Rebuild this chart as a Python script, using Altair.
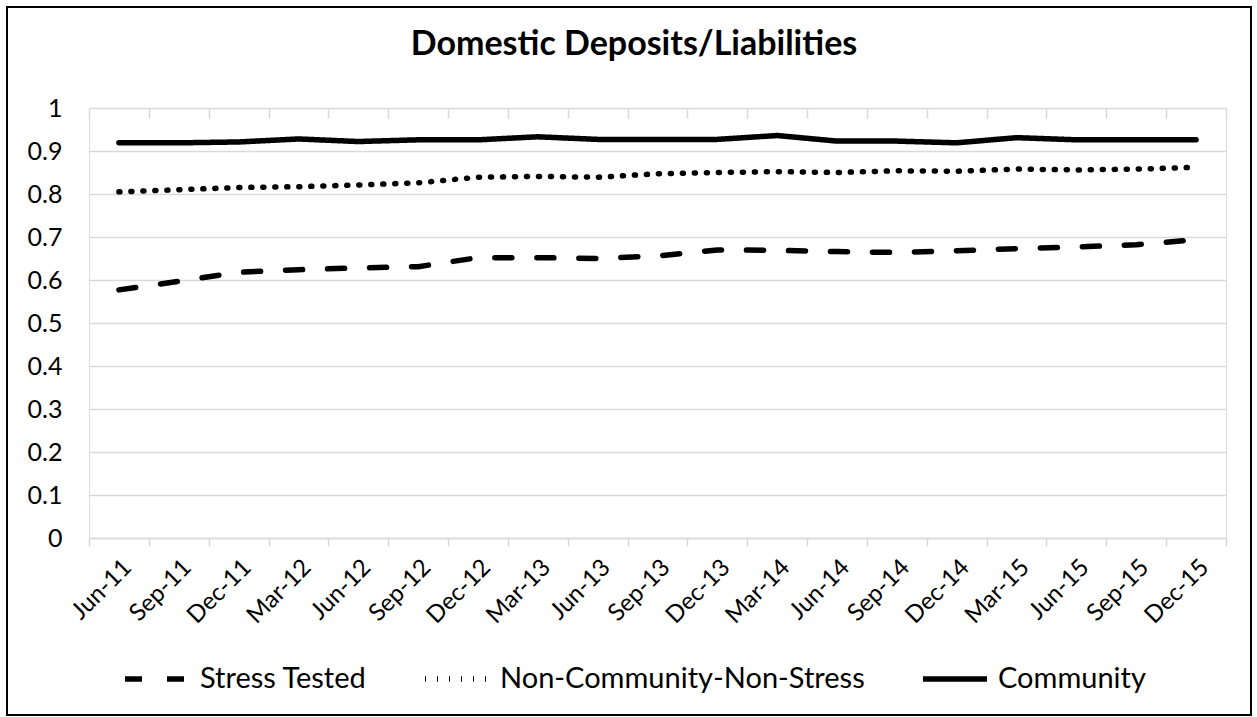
import altair as alt
import pandas as pd

title_text = "Domestic Deposits/Liabilities"
periods = ["Jun-11", "Sep-11", "Dec-11", "Mar-12", "Jun-12", "Sep-12", "Dec-12",
           "Mar-13", "Jun-13", "Sep-13", "Dec-13", "Mar-14", "Jun-14", "Sep-14",
           "Dec-14", "Mar-15", "Jun-15", "Sep-15", "Dec-15"]
series_names = ["Stress Tested", "Non-Community-Non-Stress", "Community"]
stress = [0.577, 0.597, 0.618, 0.624, 0.628, 0.631, 0.652, 0.652, 0.650, 0.656,
          0.670, 0.669, 0.666, 0.664, 0.668, 0.673, 0.677, 0.682, 0.694]
noncomm = [0.805, 0.810, 0.815, 0.817, 0.821, 0.826, 0.839, 0.841, 0.839, 0.847,
           0.850, 0.852, 0.850, 0.854, 0.853, 0.858, 0.856, 0.858, 0.862]
community = [0.919, 0.919, 0.921, 0.928, 0.922, 0.926, 0.926, 0.933, 0.927, 0.927,
             0.927, 0.936, 0.923, 0.923, 0.919, 0.931, 0.926, 0.926, 0.926]
y_ticks = [0, 0.1, 0.2, 0.3, 0.4, 0.5, 0.6, 0.7, 0.8, 0.9, 1]

rows = []
for name, vals in zip(series_names, [stress, noncomm, community]):
    for p, v in zip(periods, vals):
        rows.append({"period": p, "series": name, "value": v})
df = pd.DataFrame(rows)

W, H = 1137, 430
FONT = "Lato"
GRID = "#d9d9d9"

xscale = alt.Scale(type="band", paddingInner=0, paddingOuter=0)

lines = alt.Chart(df).mark_line(color="black", strokeWidth=5.5, strokeCap="round",
                                strokeJoin="round").encode(
    x=alt.X("period:N", sort=periods, scale=xscale, bandPosition=0.5,
            axis=alt.Axis(title=None, labelAngle=-45, labelFont=FONT, labelFontSize=24,
                          labelColor="black", labelPadding=9, tickBand="extent",
                          tickSize=8, tickColor=GRID, tickWidth=1.5, domainColor=GRID,
                          domainWidth=1.5, grid=False)),
    y=alt.Y("value:Q", scale=alt.Scale(domain=[0, 1], nice=False),
            axis=alt.Axis(title=None, values=y_ticks, format="~g", labelFont=FONT,
                          labelFontSize=25, labelColor="black", labelPadding=27,
                          ticks=False, domain=False, grid=True, gridColor=GRID,
                          gridWidth=1.5)),
    strokeDash=alt.StrokeDash("series:N", sort=series_names,
                              scale=alt.Scale(domain=series_names,
                                              range=[[17, 25], [1, 11], [1, 0]]),
                              legend=alt.Legend(title=None, orient="none", legendX=33,
                                                legendY=536, direction="horizontal",
                                                symbolType="stroke", symbolSize=4096,
                                                symbolStrokeWidth=5.5,
                                                symbolStrokeColor="black",
                                                labelFont=FONT, labelFontSize=29,
                                                labelColor="black", labelOffset=8,
                                                labelLimit=0, columnPadding=47,
                                                padding=0)),
)

ticks_up = alt.Chart(df).mark_line(opacity=0).encode(
    x=alt.X("period:N", sort=periods, scale=xscale, bandPosition=0.5,
            axis=alt.Axis(title=None, labels=False, domain=False, tickBand="extent",
                          tickSize=10, offset=-10, tickColor=GRID, tickWidth=1.5,
                          grid=False)),
    y=alt.Y("value:Q"),
)

title = alt.Chart(pd.DataFrame({"t": [title_text]})).mark_text(
    font=FONT, fontSize=34, fontWeight="bold", color="black", align="center",
    baseline="alphabetic").encode(
    text="t:N", x=alt.value(545), y=alt.value(-53))

border = alt.Chart(pd.DataFrame({"k": [0]})).mark_rect(
    fill=None, stroke="black", strokeWidth=2).encode(
    x=alt.value(-82), x2=alt.value(1162), y=alt.value(-101), y2=alt.value(607))

chart = alt.layer(lines, ticks_up, title, border).resolve_axis(x="independent").properties(
    width=W, height=H,
    autosize=alt.AutoSizeParams(type="none"),
    padding={"left": 89, "top": 108, "right": 31, "bottom": 179},
).configure_view(stroke=None).configure(background="white")

chart.save("out.html", embed_options={"renderer": "svg", "actions": False})
